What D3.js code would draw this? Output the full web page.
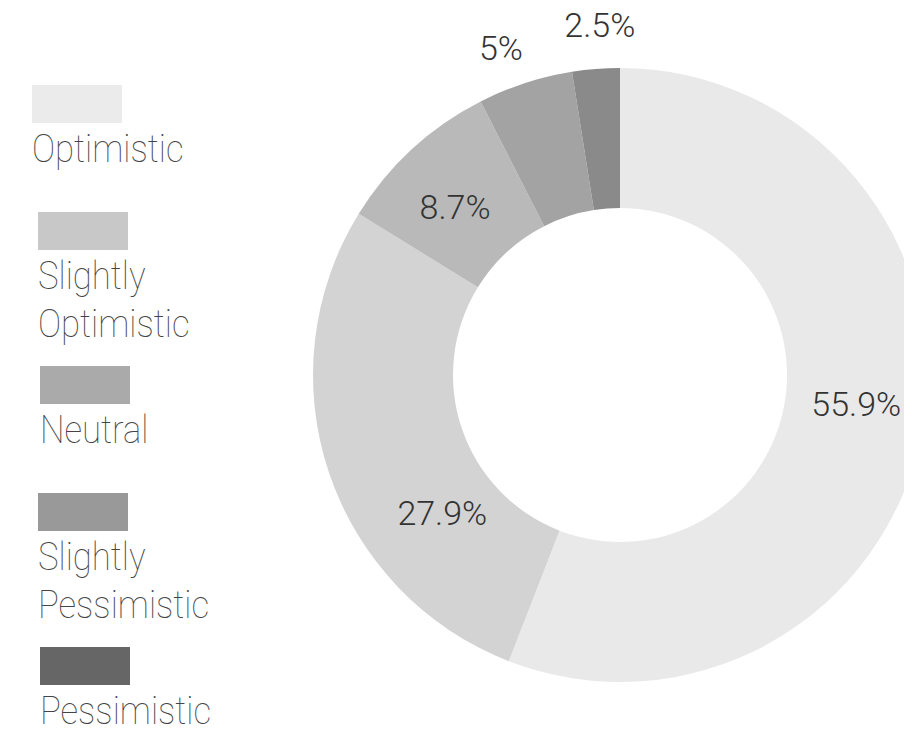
<!DOCTYPE html>
<html>
<head>
<meta charset="utf-8">
<script src="https://cdn.jsdelivr.net/npm/d3@7"></script>
<style>
  html, body { margin: 0; padding: 0; background: #ffffff; }
  svg { display: block; }
  text { font-family: Roboto, "Noto Sans", sans-serif; font-weight: 300; }
</style>
</head>
<body>
<svg id="chart" width="904" height="731"></svg>
<script>
// ---- data ----
const categories = ["Optimistic", "Slightly Optimistic", "Neutral", "Slightly Pessimistic", "Pessimistic"];
const values = [55.9, 27.9, 8.7, 5, 2.5];
const valueLabels = ["55.9%", "27.9%", "8.7%", "5%", "2.5%"];
const sliceColors = ["#e9e9e9", "#d3d3d3", "#b9b9b9", "#a3a3a3", "#8a8a8a"];
const legendColors = ["#ebebeb", "#c8c8c8", "#aaaaaa", "#999999", "#666666"];
const legendLines = [["Optimistic"], ["Slightly", "Optimistic"], ["Neutral"], ["Slightly", "Pessimistic"], ["Pessimistic"]];

// ---- layout ----
const W = 904, H = 731;
const cx = 620, cy = 375;
const outerR = 307, innerR = 167;
const labelAngleShift = [-3.6, -19.3, -1.9, -2, 1.2]; // degrees, label drift
const labelRadius = [238, 225, 235, 348, 350];

const svg = d3.select("#chart");
const g = svg.append("g").attr("transform", `translate(${cx},${cy})`);

const pie = d3.pie().sort(null).value(d => d);
const arcs = pie(values);
const arc = d3.arc().innerRadius(innerR).outerRadius(outerR);

g.selectAll("path.slice")
  .data(arcs)
  .join("path")
  .attr("class", "slice")
  .attr("d", arc)
  .attr("fill", (d, i) => sliceColors[i]);

// labels
g.selectAll("text.pct")
  .data(arcs)
  .join("text")
  .attr("class", "pct")
  .attr("transform", (d, i) => {
    const a = (d.startAngle + d.endAngle) / 2 + labelAngleShift[i] * Math.PI / 180;
    const r = labelRadius[i];
    const la = d3.arc().innerRadius(r).outerRadius(r).startAngle(a).endAngle(a);
    const [x, y] = la.centroid();
    return `translate(${x},${y})`;
  })
  .attr("text-anchor", "middle")
  .attr("dy", "0.35em")
  .attr("fill", "#333333")
  .style("font-size", "34px")
  .text((d, i) => valueLabels[i]);

// legend
const legendX = [32, 38, 40, 38, 40];
const legend = svg.append("g");
let yTop = 85;
categories.forEach((c, i) => {
  const item = legend.append("g").attr("transform", `translate(${legendX[i]},${yTop})`);
  item.append("rect").attr("width", 90).attr("height", 38).attr("fill", legendColors[i]);
  const t = item.append("text")
    .attr("fill", "#444444")
    .style("font-size", "39px")
    .style("font-weight", 100)
    .attr("transform", "translate(0,77) scale(0.89,1)");
  legendLines[i].forEach((ln, j) => {
    t.append("tspan").attr("x", 0).attr("dy", j === 0 ? 0 : 48).text(ln);
  });
  yTop += legendLines[i].length > 1 ? 154 : 127;
});
</script>
</body>
</html>
